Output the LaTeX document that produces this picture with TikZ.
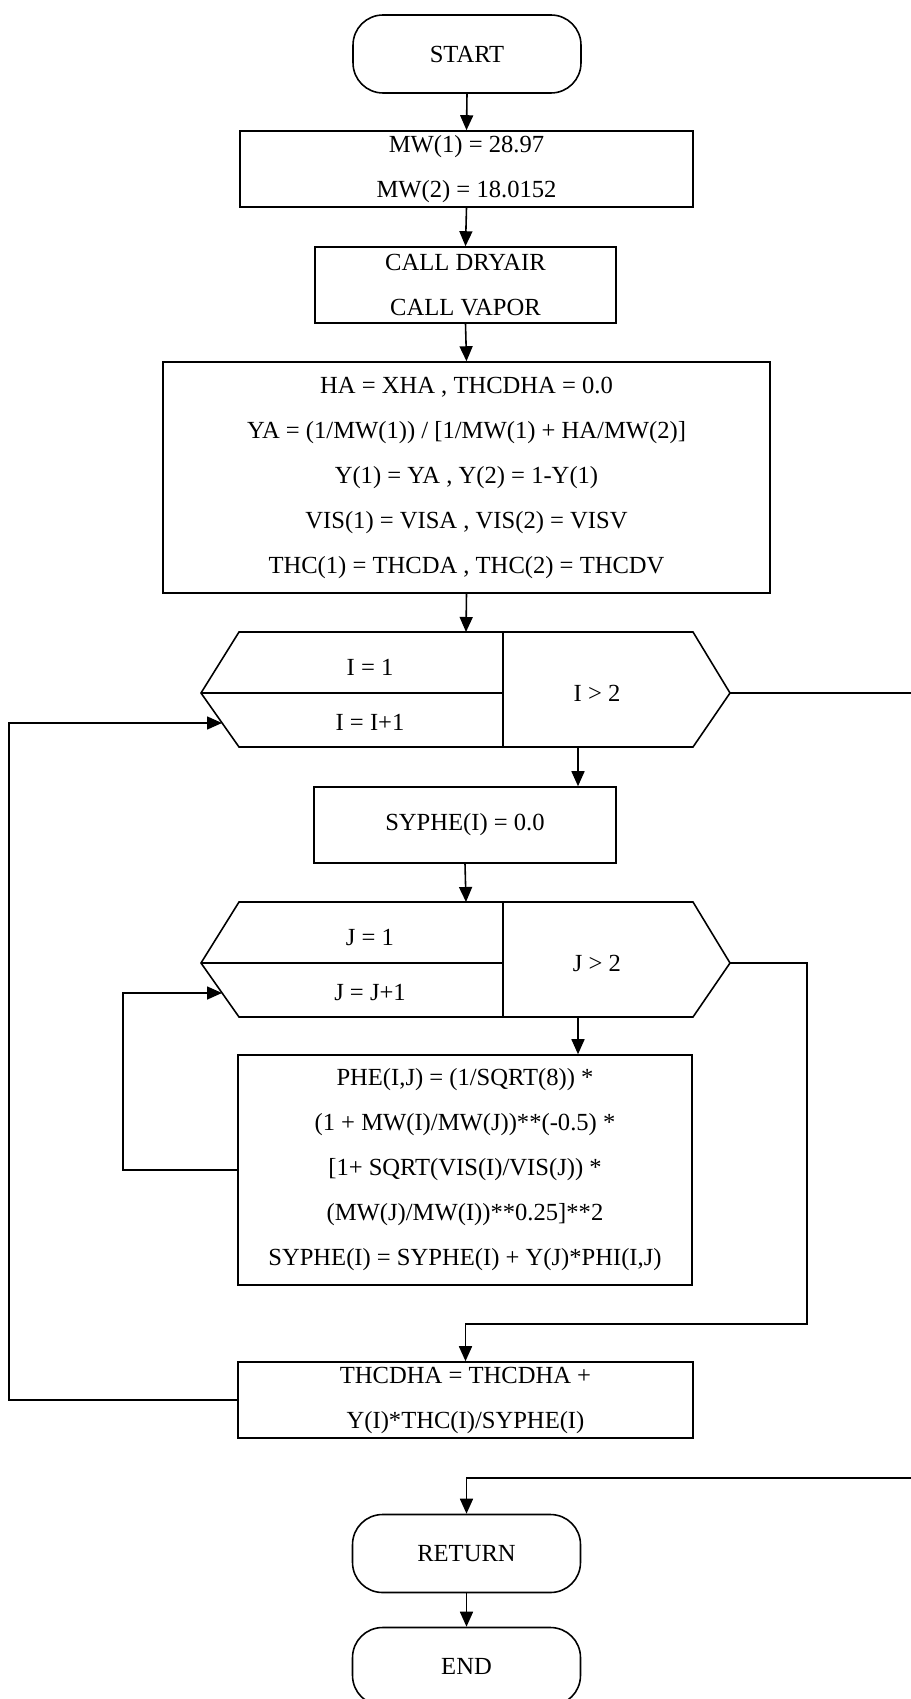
\documentclass[tikz,border=0pt]{standalone}
\usepackage{fontspec}
\setmainfont{Liberation Serif}
\usetikzlibrary{arrows.meta}

\begin{document}
\begin{tikzpicture}[x=0.02cm, y=-0.02cm,
    font=\fontsize{14pt}{25.6pt}\selectfont,
    flow/.style={draw, line width=0.9pt},
    procbox/.style={flow, rectangle, inner sep=0pt, align=center},
    termbox/.style={flow, rectangle, rounded corners=0.6cm, inner sep=0pt,
      minimum width=4.56cm, minimum height=1.56cm},
    arrowline/.style={line width=0.9pt, -{Triangle[length=0.3cm, width=0.26cm]}},
    plainline/.style={line width=0.9pt}]
    \useasboundingbox (0,0) rectangle (911,1699);
    \clip (0,0) rectangle (911,1699);

    \node[termbox] (start) at (467,54) {START};
    \node[procbox, minimum width=9.06cm, minimum height=1.52cm] (mw) at (466.5,169)
      {MW(1) = 28.97\\MW(2) = 18.0152};
    \node[procbox, minimum width=6.02cm, minimum height=1.52cm] (call) at (465.5,285)
      {CALL DRYAIR\\CALL VAPOR};
    \node[procbox, minimum width=12.14cm, minimum height=4.62cm] (ha) at (466.5,477.5)
      {HA = XHA , THCDHA = 0.0\\
       YA = (1/MW(1)) / {[}1/MW(1) + HA/MW(2)]\\
       Y(1) = YA , Y(2) = 1-Y(1)\\
       VIS(1) = VISA , VIS(2) = VISV\\
       THC(1) = THCDA , THC(2) = THCDV};

    % loop headers for I and J
    \foreach \lv/\yy in {I/632, J/902} {
      \draw[flow] (239,\yy) -- (693,\yy) -- (730,{\yy+61}) -- (693,{\yy+115})
        -- (239,{\yy+115}) -- (201,{\yy+61}) -- cycle;
      \draw[plainline] (201,{\yy+61}) -- (503,{\yy+61});
      \draw[plainline] (503,\yy) -- (503,{\yy+115});
      \node (\lv-init) at (370,{\yy+35}) {\lv{} = 1};
      \node (\lv-step) at (370,{\yy+90}) {\lv{} = \lv+1};
      \node (\lv-test) at (597,{\yy+61}) {\lv{} > 2};
      \coordinate (\lv-top) at (466,\yy);
      \coordinate (\lv-out) at (578,{\yy+115});
      \coordinate (\lv-in) at (222,{\yy+91});
      \coordinate (\lv-exit) at (730,{\yy+61});
    }

    \node[procbox, minimum width=6.04cm, minimum height=1.52cm] (syphe) at (465,825)
      {SYPHE(I) = 0.0};
    \node[procbox, minimum width=9.08cm, minimum height=4.6cm] (phe) at (465,1170)
      {PHE(I,J) = (1/SQRT(8)) *\\
       (1 + MW(I)/MW(J))**(-0.5) *\\
       {[}1+ SQRT(VIS(I)/VIS(J)) *\\
       (MW(J)/MW(I))**0.25]**2\\
       SYPHE(I) = SYPHE(I) + Y(J)*PHI(I,J)};
    \node[procbox, minimum width=9.1cm, minimum height=1.52cm] (thc) at (465.5,1400)
      {THCDHA = THCDHA +\\Y(I)*THC(I)/SYPHE(I)};
    \node[termbox] (ret) at (466.5,1553.5) {RETURN};
    \node[termbox] (end) at (466.5,1666.5) {END};

    \coordinate (jbend) at (807,1324);
    \coordinate (ibend) at (940,1478);

    \draw[arrowline] (start.south) -- (mw.north);
    \draw[arrowline] (mw.south) -- (call.north);
    \draw[arrowline] (call.south) -- (ha.north);
    \draw[arrowline] (ha.south) -- (I-top);
    \draw[arrowline] (I-out) -- (I-out |- syphe.north);
    \draw[arrowline] (syphe.south) -- (J-top);
    \draw[arrowline] (J-out) -- (J-out |- phe.north);
    \draw[arrowline] (phe.west) -- ++(-114,0) |- (J-in);
    \draw[arrowline] (J-exit) -| (jbend) -| (thc.north);
    \draw[arrowline] (thc.west) -- ++(-228,0) |- (I-in);
    \draw[arrowline] (I-exit) -| (ibend) -| (ret.north);
    \draw[arrowline] (ret.south) -- (end.north);
  \end{tikzpicture}
\end{document}
